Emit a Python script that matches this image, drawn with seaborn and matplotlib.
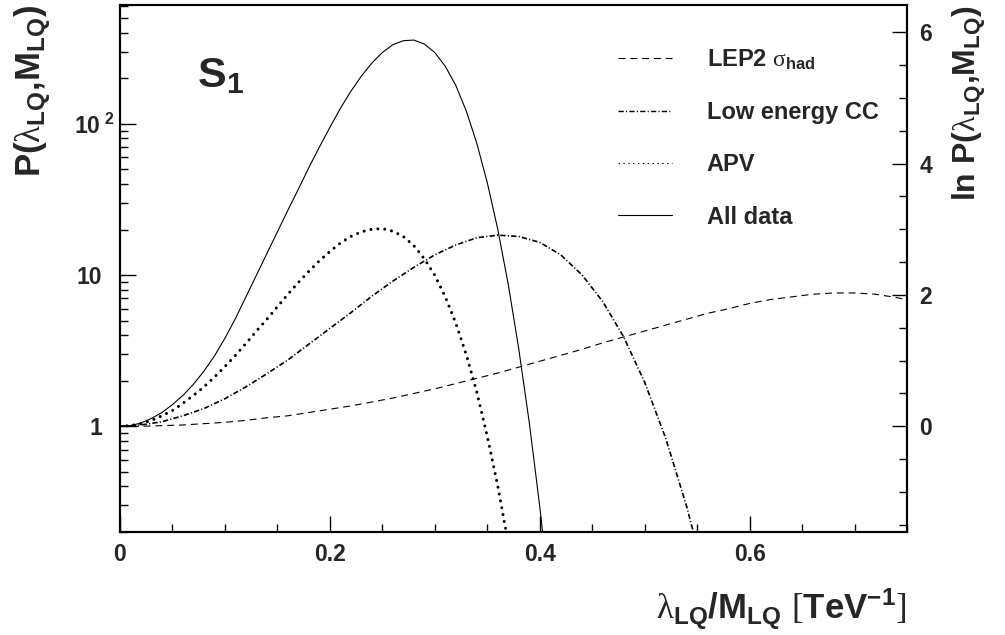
import matplotlib
matplotlib.use('Agg')
import matplotlib.pyplot as plt
import matplotlib.ticker as mticker
import matplotlib.transforms as mtransforms
from matplotlib.lines import Line2D
import numpy as np
import seaborn as sns

# 主题和字体
sns.set_theme(style='ticks')
plt.rcParams['font.family'] = ['Liberation Sans', 'DejaVu Sans']
plt.rcParams['font.weight'] = 'bold'
plt.rcParams['axes.labelweight'] = 'bold'
plt.rcParams['mathtext.fontset'] = 'custom'
plt.rcParams['mathtext.rm'] = 'Liberation Sans:bold'
plt.rcParams['mathtext.bf'] = 'Liberation Sans:bold'
plt.rcParams['mathtext.sf'] = 'Liberation Sans:bold'
plt.rcParams['mathtext.it'] = 'Liberation Sans:bold'
plt.rcParams['mathtext.cal'] = 'Liberation Serif:weight=normal:style=normal'
plt.rcParams['mathtext.default'] = 'rm'
plt.rcParams['lines.scale_dashes'] = False

# 数据 (ln P)
lam_fine = [0.00, 0.01, 0.02, 0.03, 0.04, 0.05, 0.06, 0.07, 0.08, 0.09,
            0.10, 0.11, 0.12, 0.13, 0.14, 0.15, 0.16, 0.17, 0.18, 0.19,
            0.20, 0.21, 0.22, 0.23, 0.24, 0.25, 0.26, 0.27, 0.28, 0.29,
            0.30, 0.31, 0.32, 0.33, 0.34, 0.35, 0.36, 0.37, 0.38, 0.39,
            0.40, 0.41]
lam = [0.00, 0.02, 0.04, 0.06, 0.08, 0.10, 0.12, 0.14, 0.16, 0.18,
       0.20, 0.22, 0.24, 0.26, 0.28, 0.30, 0.32, 0.34, 0.36, 0.38,
       0.40, 0.42, 0.44, 0.46, 0.48, 0.50, 0.52, 0.54, 0.56, 0.58,
       0.60, 0.62, 0.64, 0.66, 0.68, 0.70, 0.72, 0.74, 0.76]

ln_lep2 = [0.00, 0.00, 0.01, 0.02, 0.04, 0.06, 0.09, 0.13, 0.16, 0.21,
           0.26, 0.31, 0.37, 0.43, 0.50, 0.57, 0.65, 0.73, 0.81, 0.90,
           0.99, 1.08, 1.17, 1.27, 1.36, 1.45, 1.54, 1.63, 1.72, 1.79,
           1.87, 1.93, 1.97, 2.01, 2.03, 2.03, 2.01, 1.96, 1.89]
ln_cc = [0.00, 0.02, 0.07, 0.16, 0.27, 0.42, 0.60, 0.80, 1.01, 1.25,
         1.49, 1.73, 1.98, 2.21, 2.42, 2.61, 2.76, 2.87, 2.91, 2.89,
         2.80, 2.61, 2.31, 1.90, 1.36, 0.67, -0.18, -1.22, -2.44]
ln_apv = [0.00, 0.01, 0.04, 0.09, 0.16, 0.24, 0.35, 0.47, 0.60, 0.75,
          0.91, 1.08, 1.26, 1.45, 1.63, 1.82, 2.01, 2.19, 2.36, 2.52,
          2.66, 2.79, 2.89, 2.96, 3.00, 3.01, 2.97, 2.89, 2.75, 2.55,
          2.30, 1.97, 1.57, 1.09, 0.52, -0.15, -0.91, -1.78]
ln_all = [0.00, 0.01, 0.05, 0.12, 0.21, 0.33, 0.47, 0.64, 0.84, 1.07,
          1.34, 1.64, 1.97, 2.30, 2.63, 2.96, 3.29, 3.61, 3.94, 4.25,
          4.55, 4.84, 5.10, 5.33, 5.53, 5.69, 5.81, 5.87, 5.88, 5.82,
          5.69, 5.48, 5.19, 4.80, 4.31, 3.71, 3.00, 2.16, 1.18, 0.06,
          -1.22, -2.66]

labels = [r'LEP2 $\mathcal{\sigma}_{had}$', 'Low energy CC', 'APV', 'All data']
p_ticks = [1, 10, 100]
p_tick_labels = ['1', '10', r'10$^{\ 2}$']
lnp_ticks = [0, 2, 4, 6]
x_ticks = [0, 0.2, 0.4, 0.6]
x_tick_labels = ['0', '0.2', '0.4', '0.6']

fig = plt.figure(figsize=(10.05, 6.35), dpi=100)
ax = fig.add_axes([0.1194, 0.1622, 0.7831, 0.8299])
ax2 = ax.twinx()

p_min, p_max = 0.2, 610
ax.set_yscale('log')
ax.set_ylim(p_min, p_max)
ax2.set_ylim(np.log(p_min), np.log(p_max))
ax.set_xlim(0, 0.75)

dash = (0, (5, 3.5))
dashdot = (0, (3.8, 1.6, 0.8, 1.6))
dotted = (0, (0.01, 5))

sns.lineplot(x=lam[:len(ln_lep2)], y=ln_lep2, ax=ax2, color='black', linewidth=0.8,
             linestyle=dash, sort=False, estimator=None)
sns.lineplot(x=lam[:len(ln_cc)], y=ln_cc, ax=ax2, color='black', linewidth=1.2,
             linestyle=dashdot, sort=False, estimator=None)
sns.lineplot(x=lam_fine[:len(ln_apv)], y=ln_apv, ax=ax2, color='black', linewidth=2.2,
             linestyle=dotted, dash_capstyle='round', sort=False, estimator=None)
sns.lineplot(x=lam_fine[:len(ln_all)], y=ln_all, ax=ax2, color='black', linewidth=0.8,
             sort=False, estimator=None)

# 坐标轴样式
for a in (ax, ax2):
    for s in a.spines.values():
        s.set_linewidth(1.5)
        s.set_color('black')

ax.xaxis.set_major_locator(mticker.FixedLocator(x_ticks))
ax.xaxis.set_major_formatter(mticker.FixedFormatter(x_tick_labels))
ax.xaxis.set_minor_locator(mticker.MultipleLocator(0.05))
ax.yaxis.set_major_locator(mticker.FixedLocator(p_ticks))
ax.yaxis.set_major_formatter(mticker.FixedFormatter(p_tick_labels))
ax.yaxis.set_minor_locator(mticker.LogLocator(subs=np.arange(2, 10), numticks=20))
ax.yaxis.set_minor_formatter(mticker.NullFormatter())
ax2.yaxis.set_major_locator(mticker.FixedLocator(lnp_ticks))
ax2.yaxis.set_minor_locator(mticker.MultipleLocator(0.5))

ax.tick_params(axis='both', which='both', direction='in', color='black', width=1,
               top=False, right=False, labelsize=16.5)
ax.tick_params(axis='both', which='major', length=11.5)
ax.tick_params(axis='both', which='minor', length=5.8)
ax.tick_params(axis='x', pad=8)
ax.tick_params(axis='y', pad=13)
ax2.tick_params(axis='y', which='both', direction='in', color='black', width=1,
                labelsize=16.5, pad=9)
ax2.tick_params(axis='y', which='major', length=11)
ax2.tick_params(axis='y', which='minor', length=5.8)

# 10^2 稍微向右
shift = mtransforms.ScaledTranslation(0.13, 0, fig.dpi_scale_trans)
lab = ax.yaxis.get_major_ticks()[2].label1
lab.set_transform(lab.get_transform() + shift)

# 轴标题
ax.set_ylabel(r'P($\mathcal{\lambda}_{LQ}$,M$_{LQ}$)', fontsize=25, loc='top')
ax.yaxis.set_label_coords(-0.085, 1.0)
ax2.set_ylabel(r'ln P($\mathcal{\lambda}_{LQ}$,M$_{LQ}$)', fontsize=23, loc='top')
ax2.yaxis.set_label_coords(1.056, 1.0)
ax.set_xlabel(r'$\mathcal{\lambda}_{LQ}$/M$_{LQ}$ $\mathcal{[}$TeV$^{-1}$$\mathcal{]}$',
              fontsize=25, loc='right')
ax.xaxis.set_label_coords(1.0, -0.103)
ax.xaxis.label.set_va('top')

fig.text(197 / 1005, 1 - 87 / 635, r'S$_{1}$', fontsize=31, va='baseline')

# 图例
handles = [Line2D([], [], color='black', lw=0.8, linestyle=dash),
           Line2D([], [], color='black', lw=1.0, linestyle=dashdot),
           Line2D([], [], color='black', lw=0.8, linestyle=(0, (1, 2.5))),
           Line2D([], [], color='black', lw=0.8)]
ax2.legend(handles, labels, loc='upper left', bbox_to_anchor=(618 / 1005, 1 - 47 / 635),
           bbox_transform=fig.transFigure, frameon=False, fontsize=17,
           handlelength=2.3, handletextpad=1.45, labelspacing=1.24,
           borderpad=0, borderaxespad=0)

fig.savefig('out.png', dpi=100)
